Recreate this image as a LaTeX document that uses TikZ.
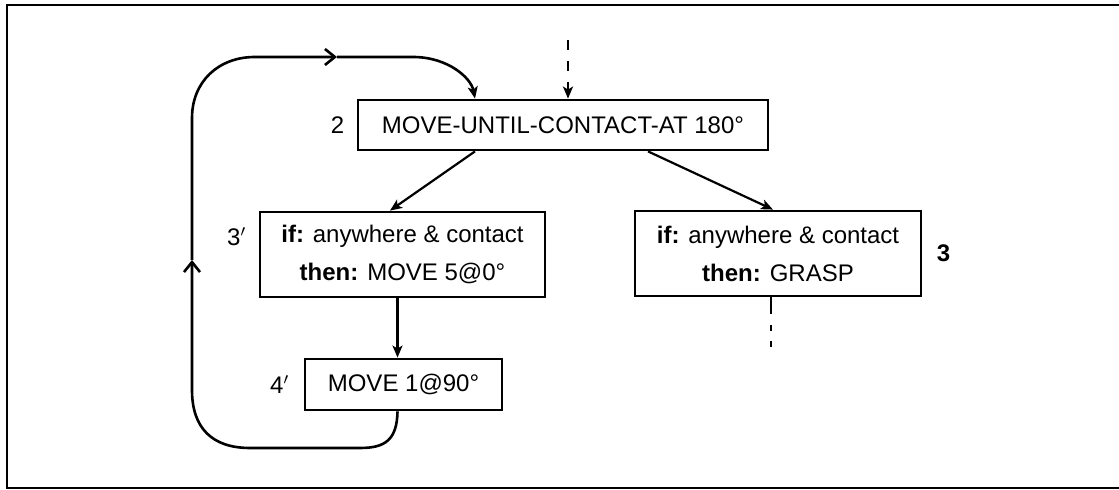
\documentclass[tikz,border=0pt]{standalone}
\usepackage{fontspec}
\setmainfont{Liberation Sans}
\usetikzlibrary{arrows.meta, positioning, calc}

\begin{document}
\begin{tikzpicture}[
        x=0.5pt, y=-0.5pt,
        font=\fontsize{12}{19}\selectfont,
        box/.style={rectangle, draw, line width=1.4pt, align=center,
                    inner sep=0pt, minimum height=25pt},
        rulebox/.style={box, minimum height=42.5pt},
        num/.style={inner sep=0pt},
        arrow/.style={-{Stealth[length=6pt, width=5pt, inset=1.5pt]}, line width=1.1pt},
        loopline/.style={line width=1.3pt},
        chevron/.style={loopline, -{Straight Barb[length=5pt, width=8pt]}},
        dashedarrow/.style={arrow, dash pattern=on 5pt off 5.5pt},
        cont/.style={line width=1.4pt, dash pattern=on 8.5pt off 5.5pt on 3pt off 5pt on 3pt off 20pt}
    ]
        \useasboundingbox (0,0) rectangle (1119,490);
        % Frame
        \draw[line width=1.2pt] (1119,5) -- (7,5) -- (7,488) -- (1119,488);

        % Boxes
        \node[box, minimum width=205pt] (move) at (563,125) {MOVE-UNTIL-CONTACT-AT 180°};
        \node[rulebox, minimum width=142.5pt] (contact) at (402.5,254.5) {\textbf{if:} anywhere \& contact\\\textbf{then:} MOVE 5@0°};
        \node[box, minimum width=98.5pt, minimum height=25.5pt] (nudge) at (403.5,384.5) {MOVE 1@90°};
        \node[rulebox, minimum width=143pt] (grasp) at (778,253.5) {\textbf{if:} anywhere \& contact\\\textbf{then:} GRASP};

        % Numbers
        \node[num, left=6pt of move] (n2) {2};
        \node[num, left=6pt of contact.west, yshift=8.75pt] (n3p) {3$'$};
        \node[num, left=7pt of nudge] (n4p) {4$'$};
        \node[num, right=7pt of grasp, font=\fontsize{12}{19}\selectfont\bfseries] (n3) {3};

        % Arrows
        \coordinate (entry) at (568,40);
        \draw[dashedarrow] (entry) -- ([xshift=2.5pt]move.north);
        \draw[arrow] ([xshift=-44pt]move.south) -- ([xshift=-6.25pt]contact.north);
        \draw[arrow] ([xshift=42.5pt]move.south) -- ([xshift=-2.5pt]grasp.north);
        \draw[arrow] ([xshift=-2.5pt]contact.south) -- ([xshift=-2.5pt]contact.south |- nudge.north);
        \draw[cont] ([xshift=-3.5pt]grasp.south) -- ++(0,50);

        % Loop back
        \coordinate (retleft) at (192,260);
        \coordinate (rettop) at (337,57);
        \draw[chevron] ([xshift=-3pt]nudge.south) .. controls (397,440) and (385,448) .. (360,448) -- (250,448)
            .. controls (212,448) and (192,428) .. (192,390) -- (retleft);
        \draw[chevron] (retleft) -- (192,118) .. controls (192,82) and (218,57) .. (255,57) -- (rettop);
        \draw[arrow, loopline] (rettop) -- (413,57) .. controls (448,57) and (471,78) .. ([xshift=-44pt]move.north);
    \end{tikzpicture}
\end{document}
